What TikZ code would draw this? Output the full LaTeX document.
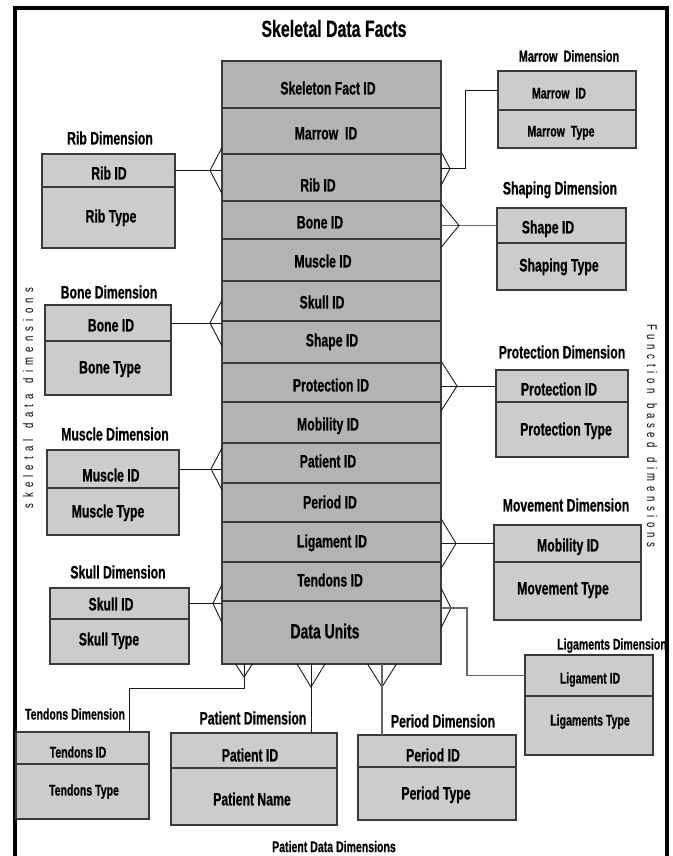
\documentclass[tikz,border=0pt]{standalone}
\usepackage{fontspec}
\setmainfont{Liberation Sans}[FakeStretch=0.68, BoldFeatures={FakeBold=0.6}]
\usetikzlibrary{calc}
\definecolor{factfill}{HTML}{B3B3B3}
\definecolor{dimfill}{HTML}{CCCCCC}
\definecolor{edgecol}{HTML}{3A3A3A}

% crow's foot opening towards a vertical table edge: #1 point on edge, #2 dx to apex, #3 half spread
\newcommand\crowside[3]{\draw[conn] ($(#1)+(0,-#3)$) -- ($(#1)+(#2,0)$) -- ($(#1)+(0,#3)$);}
% crow's foot hanging below the table: #1 point on edge, #2 depth, #3 half spread
\newcommand\crowdown[3]{\draw[conn] ($(#1)+(-#3,0)$) -- ($(#1)+(0,#2)$) -- ($(#1)+(#3,0)$);}

\begin{document}
\begin{tikzpicture}[x=1pt,y=-1pt,
  factrow/.style={draw=edgecol, line width=1.1pt, fill=factfill, minimum width=219pt,
    inner sep=0pt, outer sep=0pt, anchor=north west},
  dimrow/.style={draw=edgecol, line width=1.1pt, fill=dimfill,
    inner sep=0pt, outer sep=0pt, anchor=north west},
  txt/.style={font=\fontsize{18}{20}\selectfont\bfseries, text height=12.9pt, text depth=0pt, inner sep=0pt},
  txtm/.style={font=\fontsize{16}{18}\selectfont\bfseries, text height=11.5pt, text depth=0pt, inner sep=0pt},
  txts/.style={font=\fontsize{15.5}{17}\selectfont\bfseries, text height=11.1pt, text depth=0pt, inner sep=0pt},
  ttl/.style={font=\fontsize{23.4}{26}\selectfont\bfseries, text height=16.8pt, text depth=0pt, inner sep=0pt},
  vtxt/.style={font=\fontsize{14}{16}\selectfont, inner sep=0pt},
  conn/.style={draw=black!90, line width=0.9pt},
  connlight/.style={draw=black!60, line width=1.1pt},
]
\useasboundingbox (0,0) rectangle (672,856);
\fill[white] (0,0) rectangle (672,856);

% outer frame
\draw[line width=4pt] (15,8) rectangle (667,880);

\node[ttl] (title) at (334,28.5) {Skeletal Data Facts};

% ---------- fact table ----------
\node[factrow, minimum height=47pt] (f1)  at (222,61)  {};
\node[factrow, minimum height=46pt] (f2)  at (222,108) {};
\node[factrow, minimum height=47pt] (f3)  at (222,154) {};
\node[factrow, minimum height=38pt] (f4)  at (222,201) {};
\node[factrow, minimum height=42pt] (f5)  at (222,239) {};
\node[factrow, minimum height=40pt] (f6)  at (222,281) {};
\node[factrow, minimum height=42pt] (f7)  at (222,321) {};
\node[factrow, minimum height=39pt] (f8)  at (222,363) {};
\node[factrow, minimum height=41pt] (f9)  at (222,402) {};
\node[factrow, minimum height=40pt] (f10) at (222,443) {};
\node[factrow, minimum height=39pt] (f11) at (222,483) {};
\node[factrow, minimum height=40pt] (f12) at (222,522) {};
\node[factrow, minimum height=39pt] (f13) at (222,562) {};
\node[factrow, minimum height=63pt] (f14) at (222,601) {};

\node[txt] (f1t)  at (328,88)  {Skeleton Fact ID};
\node[txt] (f2t)  at (326,133) {Marrow\ \ ID};
\node[txt] (f3t)  at (318,185) {Rib ID};
\node[txt] (f4t)  at (320,222) {Bone ID};
\node[txt] (f5t)  at (323,261) {Muscle ID};
\node[txt] (f6t)  at (322,302) {Skull ID};
\node[txt] (f7t)  at (332,340) {Shape ID};
\node[txt] (f8t)  at (331,385) {Protection ID};
\node[txt] (f9t)  at (328,424) {Mobility ID};
\node[txt] (f10t) at (328,461) {Patient ID};
\node[txt] (f11t) at (330,502) {Period ID};
\node[txt] (f12t) at (332,541) {Ligament ID};
\node[txt] (f13t) at (330,580) {Tendons ID};
\node[txt, font=\fontsize{20.5}{22}\selectfont\bfseries, text height=14.7pt] (f14t) at (325,631) {Data Units};

% ---------- left dimensions ----------
\node[txt] (ribT) at (110,138) {Rib Dimension};
\node[dimrow, minimum width=133pt, minimum height=33pt] (ribA) at (42,154) {};
\node[dimrow, minimum width=133pt, minimum height=61pt] (ribB) at (42,187) {};
\node[txt] (ribAt) at (109,173) {Rib ID};
\node[txt] (ribBt) at (111,216) {Rib Type};

\node[txt] (boT) at (109,292) {Bone Dimension};
\node[dimrow, minimum width=126pt, minimum height=36pt] (boA) at (45,305) {};
\node[dimrow, minimum width=126pt, minimum height=54pt] (boB) at (45,341) {};
\node[txt] (boAt) at (111,325) {Bone ID};
\node[txt] (boBt) at (110,367) {Bone Type};

\node[txt] (muT) at (115,434) {Muscle Dimension};
\node[dimrow, minimum width=132pt, minimum height=38pt] (muA) at (47,450) {};
\node[dimrow, minimum width=132pt, minimum height=47pt] (muB) at (47,488) {};
\node[txt] (muAt) at (111,475) {Muscle ID};
\node[txt] (muBt) at (108,511) {Muscle Type};

\node[txt] (skT) at (118,572) {Skull Dimension};
\node[dimrow, minimum width=139pt, minimum height=31pt] (skA) at (50,588) {};
\node[dimrow, minimum width=139pt, minimum height=45pt] (skB) at (50,619) {};
\node[txt] (skAt) at (111,604) {Skull ID};
\node[txt] (skBt) at (109,639) {Skull Type};

% ---------- right dimensions ----------
\node[txtm] (maT) at (569,56) {Marrow\ \ Dimension};
\node[dimrow, minimum width=138pt, minimum height=39pt] (maA) at (498,71) {};
\node[dimrow, minimum width=138pt, minimum height=38pt] (maB) at (498,110) {};
\node[txts] (maAt) at (559,93) {Marrow\ \ ID};
\node[txts] (maBt) at (561,131) {Marrow\ \ Type};

\node[txt] (shT) at (560,188) {Shaping Dimension};
\node[dimrow, minimum width=129pt, minimum height=35pt] (shA) at (497,208) {};
\node[dimrow, minimum width=129pt, minimum height=47pt] (shB) at (497,243) {};
\node[txt] (shAt) at (548,227) {Shape ID};
\node[txt] (shBt) at (559,265) {Shaping Type};

\node[txt] (prT) at (562,352) {Protection Dimension};
\node[dimrow, minimum width=132pt, minimum height=32pt] (prA) at (496,370) {};
\node[dimrow, minimum width=132pt, minimum height=55pt] (prB) at (496,402) {};
\node[txt] (prAt) at (559,389) {Protection ID};
\node[txt] (prBt) at (566,429) {Protection Type};

\node[txt] (mvT) at (566,505) {Movement Dimension};
\node[dimrow, minimum width=147pt, minimum height=37pt] (mvA) at (494,525) {};
\node[dimrow, minimum width=147pt, minimum height=58pt] (mvB) at (494,562) {};
\node[txt] (mvAt) at (568,545) {Mobility ID};
\node[txt] (mvBt) at (563,588) {Movement Type};

\node[txts] (liT) at (612,644) {Ligaments Dimension};
\node[dimrow, minimum width=128pt, minimum height=41pt] (liA) at (525,655) {};
\node[dimrow, minimum width=128pt, minimum height=59pt] (liB) at (525,696) {};
\node[txts] (liAt) at (590,678) {Ligament ID};
\node[txts] (liBt) at (590,720) {Ligaments Type};

% ---------- bottom dimensions ----------
\node[txts] (teT) at (75,714) {Tendons Dimension};
\node[dimrow, minimum width=133pt, minimum height=32pt] (teA) at (16,732) {};
\node[dimrow, minimum width=133pt, minimum height=55pt] (teB) at (16,764) {};
\node[txts] (teAt) at (78,752) {Tendons ID};
\node[txts] (teBt) at (84,790) {Tendons Type};

\node[txt] (paT) at (253,718) {Patient Dimension};
\node[dimrow, minimum width=166pt, minimum height=35pt] (paA) at (171,733) {};
\node[dimrow, minimum width=166pt, minimum height=57pt] (paB) at (171,768) {};
\node[txt] (paAt) at (250,755) {Patient ID};
\node[txt] (paBt) at (252,799) {Patient Name};

\node[txt] (peT) at (443,721) {Period Dimension};
\node[dimrow, minimum width=158pt, minimum height=32pt] (peA) at (358,735) {};
\node[dimrow, minimum width=158pt, minimum height=53pt] (peB) at (358,767) {};
\node[txt] (peAt) at (433,755) {Period ID};
\node[txt] (peBt) at (436,793) {Period Type};

\node[txts] (botT) at (334,846.5) {Patient Data Dimensions};

% side captions
\node[vtxt, rotate=90] (leftcap) at (28,398)
  {\makebox[220pt][s]{s k e l e t a l\ \ d a t a\ \ d i m e n s i o n s}};
\node[vtxt, rotate=-90] (rightcap) at (652,436)
  {\makebox[223pt][s]{F u n c t i o n\ \ b a s e d\ \ d i m e n s i o n s}};

% ---------- connectors, left ----------
\draw[conn] (ribA.east) -- (ribA.east -| f3.west);
\crowside{ribA.east -| f3.west}{-12}{23}
\draw[conn] (boA.east) -- (boA.east -| f6.west);
\crowside{boA.east -| f6.west}{-12}{23}
\draw[conn] (muA.east) -- (muA.east -| f10.west);
\crowside{muA.east -| f10.west}{-11}{21}
\draw[conn] (skA.east) -- (skA.east -| f13.west);
\crowside{skA.east -| f13.west}{-9}{19}

% ---------- connectors, right ----------
\coordinate (maJ) at ($(f3.east)+(0,-9)$);
\crowside{maJ}{9}{17}
\draw[conn] (maJ) -- ++(24,0) |- (maA.west);
\draw[connlight] (shA.west) -- (shA.west -| f4.east);
\crowside{shA.west -| f4.east}{18}{22}
\draw[conn] (prA.west) -- (prA.west -| f8.east);
\crowside{prA.west -| f8.east}{16}{25}
\draw[conn] (mvA.west) -- (mvA.west -| f12.east);
\crowside{mvA.west -| f12.east}{15}{25}
\coordinate (liJ) at ($(f14.east)+(0,-24.5)$);
\crowside{liJ}{10}{20}
\draw[connlight] (liJ) -- ++(26,0) |- (liA.west);

% ---------- connectors, bottom ----------
\coordinate (teJ) at ($(f14.south west)+(22,0)$);
\crowdown{teJ}{13}{8.5}
\draw[conn] (teJ) -- ++(0,24) -| ($(teA.north east)+(-20,0)$);
\coordinate (paJ) at ($(f14.south west)+(89,0)$);
\crowdown{paJ}{23}{14}
\draw[conn] (paJ) -- (paJ |- paA.north);
\coordinate (peJ) at ($(f14.south west)+(160,0)$);
\crowdown{peJ}{23}{14.5}
\draw[connlight] (peJ) -- (peJ |- peA.north);
\end{tikzpicture}
\end{document}
